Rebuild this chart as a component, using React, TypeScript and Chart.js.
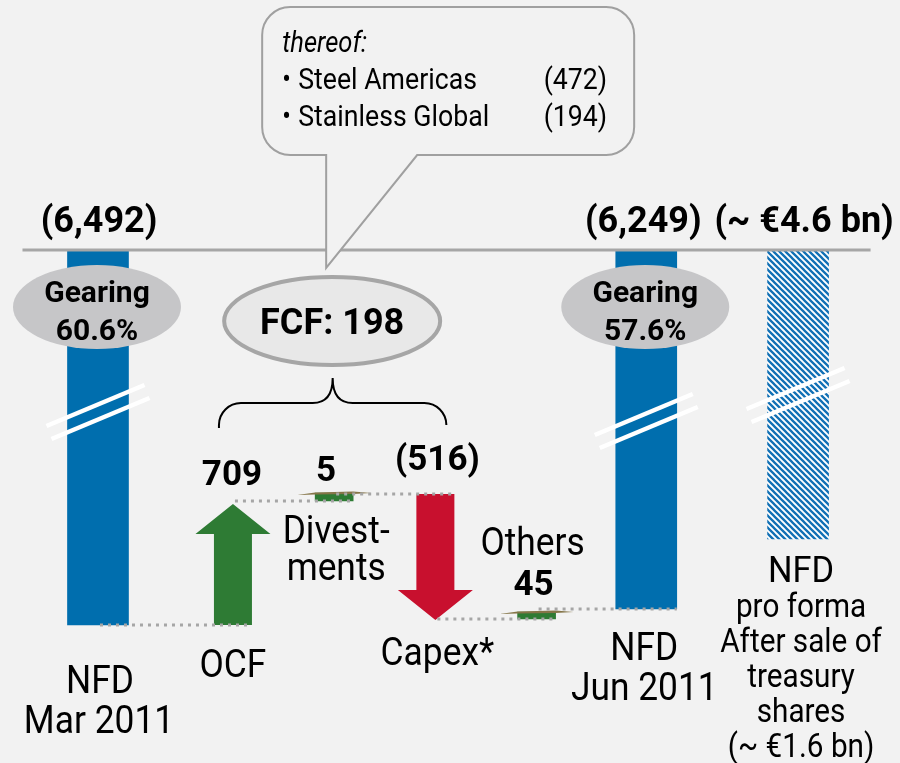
import { useEffect, useRef } from "react";
import { Chart, registerables } from "chart.js";

Chart.register(...registerables);

// ---- data (€ m) ----
const categories = ["NFD Mar 2011", "OCF", "Divestments", "Capex*", "Others", "NFD Jun 2011", "NFD pro forma"];
const amounts = [-6492, 709, 5, -516, 45, -6249, -4600];
const kinds = ["total", "flow", "flow", "flow", "flow", "total", "proforma"];
// schematic (not-to-scale, broken axis) extents used for drawing
const barFrom = [0, -375, -251, -244, -369, 0, 0];
const barTo = [-375, -254, -243, -370, -362, -359, -289];
const valueLabels = ["(6,492)", "709", "5", "(516)", "45", "(6,249)", "(~ €4.6 bn)"];
const categoryLines = [
  ["NFD", "Mar 2011"],
  ["OCF"],
  ["Divest-", "ments"],
  ["Capex*"],
  ["Others"],
  ["NFD", "Jun 2011"],
  ["NFD", "pro forma", "After sale of", "treasury", "shares", "(~ €1.6 bn)"],
];
const gearingLabels = ["60.6%", "", "", "", "", "57.6%", ""];
const fcfLabel = "FCF: 198";
const thereofNames = ["Steel Americas", "Stainless Global"];
const thereofValues = ["(472)", "(194)"];

// ---- layout (category slot spacing, in fine slots) ----
const slotGaps = [16, 12, 12, 12, 13, 18];
const slotIndex: number[] = [0];
slotGaps.forEach((g) => slotIndex.push(slotIndex[slotIndex.length - 1] + g));
const slotCount = slotIndex[slotIndex.length - 1] + 1;
const slotLabels = Array.from({ length: slotCount }, (_, i) => {
  const k = slotIndex.indexOf(i);
  return k >= 0 ? categories[k] : "";
});

const BLUE = "#006eae";
const GREEN = "#2e7b34";
const RED = "#c8102e";
const GRID = "#a6a6a6";
const FONT = "Roboto";

function txt(ctx: CanvasRenderingContext2D, s: string, x: number, y: number, size: number,
  o: { bold?: boolean; italic?: boolean; align?: CanvasTextAlign; sx?: number } = {}) {
  ctx.save();
  ctx.font = `${o.italic ? "italic " : ""}${o.bold ? "bold " : ""}${size}px ${FONT}`;
  ctx.textAlign = o.align || "center";
  ctx.textBaseline = "alphabetic";
  ctx.fillStyle = "#000";
  ctx.translate(x, y);
  ctx.scale(o.sx ?? (o.bold ? 1 : 0.93), 1);
  ctx.fillText(s, 0, 0);
  ctx.restore();
}

function ellipse(ctx: CanvasRenderingContext2D, cx: number, cy: number, rx: number, ry: number, fill: string, stroke?: string, lw = 0) {
  ctx.save();
  ctx.beginPath();
  ctx.ellipse(cx, cy, rx, ry, 0, 0, Math.PI * 2);
  ctx.fillStyle = fill;
  ctx.fill();
  if (stroke) { ctx.strokeStyle = stroke; ctx.lineWidth = lw; ctx.stroke(); }
  ctx.restore();
}

function arrow(ctx: CanvasRenderingContext2D, x: number, tail: number, tip: number, shaftW: number, headW: number, headL: number, color: string) {
  const dir = tip < tail ? -1 : 1;
  const neck = tip - dir * headL;
  ctx.save();
  ctx.beginPath();
  ctx.moveTo(x - shaftW / 2, tail);
  ctx.lineTo(x - shaftW / 2, neck);
  ctx.lineTo(x - headW / 2, neck);
  ctx.lineTo(x, tip);
  ctx.lineTo(x + headW / 2, neck);
  ctx.lineTo(x + shaftW / 2, neck);
  ctx.lineTo(x + shaftW / 2, tail);
  ctx.closePath();
  ctx.fillStyle = color;
  ctx.fill();
  ctx.restore();
}

const breakMarkLevels: Record<number, number> = { 0: -162, 5: -171, 6: -145 };

const decorPlugin = {
  id: "decor",
  afterDatasetsDraw(chart: any) {
    const ctx: CanvasRenderingContext2D = chart.ctx;
    const y = chart.scales.y;
    const els = categories.map((_, k) => {
      const ds = kinds[k] === "flow" ? 1 : 0;
      const e = chart.getDatasetMeta(ds).data[slotIndex[k]];
      const p = e.getProps(["x", "width"], true);
      const from = y.getPixelForValue(barFrom[k]);
      const to = y.getPixelForValue(barTo[k]);
      return { x: p.x, width: p.width, from, to, top: Math.min(from, to), bottom: Math.max(from, to) };
    });
    const axisY = y.getPixelForValue(0);

    // arrows for OCF and Capex, tapers for small flows
    categories.forEach((_, k) => {
      if (kinds[k] !== "flow") return;
      const e = els[k];
      if (k === 1 || k === 3) {
        arrow(ctx, e.x, e.from, e.to, e.width, 75, 30, amounts[k] > 0 ? GREEN : RED);
      } else {
        const l = e.x - e.width / 2, r = e.x + e.width / 2, t = e.top;
        ctx.save();
        ctx.beginPath();
        ctx.moveTo(l - 18, t + 2);
        ctx.lineTo(l, t - 0.5);
        ctx.lineTo(r, t - 1.5);
        ctx.lineTo(r + 18, t);
        ctx.lineTo(r, t + 1);
        ctx.lineTo(l, t + 1.5);
        ctx.closePath();
        ctx.fillStyle = "#857548";
        ctx.fill();
        ctx.restore();
      }
    });

    // dotted connectors
    ctx.save();
    ctx.strokeStyle = GRID;
    ctx.lineWidth = 3;
    ctx.setLineDash([3, 5]);
    for (let k = 0; k < 5; k++) {
      const a = els[k], b = els[k + 1];
      const lvl = kinds[k + 1] === "flow" ? barFrom[k + 1] : barTo[k + 1];
      const py = y.getPixelForValue(lvl);
      ctx.beginPath();
      ctx.moveTo(a.x + 2, py);
      ctx.lineTo(b.x + b.width / 2, py);
      ctx.stroke();
    }
    ctx.restore();

    // break marks
    Object.keys(breakMarkLevels).forEach((key) => {
      const k = Number(key);
      const e = els[k];
      const cy = y.getPixelForValue(breakMarkLevels[k]);
      const dx = 49, dy = -20.5;
      ctx.save();
      ctx.strokeStyle = "#ffffff";
      ctx.lineWidth = 4.5;
      [[-2.5, -6.5], [2.5, 6.5]].forEach(([ox, oy]) => {
        ctx.beginPath();
        ctx.moveTo(e.x + ox - dx, cy + oy - dy);
        ctx.lineTo(e.x + ox + dx, cy + oy + dy);
        ctx.stroke();
      });
      ctx.restore();
    });

    // axis line at zero
    ctx.save();
    ctx.strokeStyle = GRID;
    ctx.lineWidth = 3;
    ctx.beginPath();
    ctx.moveTo(els[0].x - els[0].width / 2 - 45, axisY);
    ctx.lineTo(els[6].x + els[6].width / 2 + 42, axisY);
    ctx.stroke();
    ctx.restore();

    // gearing ellipses
    categories.forEach((_, k) => {
      if (!gearingLabels[k]) return;
      const e = els[k];
      ellipse(ctx, e.x - 1, axisY + 57, 84, 42, "#c6c6c8");
      txt(ctx, "Gearing", e.x - 1, axisY + 52, 30, { bold: true });
      txt(ctx, gearingLabels[k], e.x - 1, axisY + 90, 30, { bold: true });
    });

    // value labels
    txt(ctx, valueLabels[0], els[0].x + 1, axisY - 18, 36, { bold: true });
    txt(ctx, valueLabels[5], els[5].x - 3, axisY - 18, 36, { bold: true });
    txt(ctx, valueLabels[6], els[6].x + 6, axisY - 18, 36, { bold: true });
    txt(ctx, valueLabels[1], els[1].x - 1, els[1].top - 19, 35, { bold: true });
    txt(ctx, valueLabels[2], els[2].x - 8, els[2].top - 12, 35, { bold: true });
    txt(ctx, valueLabels[3], els[3].x + 2, els[3].top - 24, 35, { bold: true });
    txt(ctx, valueLabels[4], els[4].x - 3, els[4].top - 17, 35, { bold: true });

    // category labels
    const L = categoryLines;
    txt(ctx, L[0][0], els[0].x + 2, els[0].bottom + 68, 38);
    txt(ctx, L[0][1], els[0].x + 1, els[0].bottom + 108, 38);
    txt(ctx, L[1][0], els[1].x, els[1].bottom + 52, 38);
    txt(ctx, L[2][0], els[2].x + 2, els[2].bottom + 42, 38);
    txt(ctx, L[2][1], els[2].x + 2, els[2].bottom + 79, 38);
    txt(ctx, L[3][0], els[3].x + 2, els[3].bottom + 45, 38);
    txt(ctx, L[4][0], els[4].x - 4, els[4].top - 57, 38);
    txt(ctx, L[5][0], els[5].x - 2, els[5].bottom + 51, 38);
    txt(ctx, L[5][1], els[5].x - 2, els[5].bottom + 91, 38);
    txt(ctx, L[6][0], els[6].x + 3, els[6].bottom + 43, 37);
    for (let i = 1; i < L[6].length; i++) {
      txt(ctx, L[6][i], els[6].x + 3, els[6].bottom + 43 + 35 * i, 33, { sx: 0.9 });
    }

    // FCF ellipse and brace
    const fx = (els[1].x + els[3].x) / 2 - 2;
    const fy = axisY + 71;
    ellipse(ctx, fx, fy, 108, 44, "#e8e8e8", GRID, 4);
    txt(ctx, fcfLabel, fx, fy + 13, 36, { bold: true });

    const bx1 = els[1].x - 14, bx2 = els[3].x + 11, bm = (bx1 + bx2) / 2;
    const bTop = axisY + 153, bEnd = axisY + 178, bPeak = axisY + 128;
    ctx.save();
    ctx.strokeStyle = "#000";
    ctx.lineWidth = 2;
    ctx.beginPath();
    ctx.moveTo(bx1, bEnd);
    ctx.arcTo(bx1, bTop, bx1 + 22, bTop, 22);
    ctx.lineTo(bm - 20, bTop);
    ctx.quadraticCurveTo(bm, bTop, bm, bPeak);
    ctx.quadraticCurveTo(bm, bTop, bm + 20, bTop);
    ctx.lineTo(bx2 - 22, bTop);
    ctx.arcTo(bx2, bTop, bx2, bEnd, 22);
    ctx.stroke();
    ctx.restore();

    // callout
    const tipX = fx - 6, tipY = fy - 53;
    const Lb = tipX - 64, Rb = tipX + 308, Tb = 7, Bb = 155, r = 28;
    const tailL = tipX, tailR = tipX + 91;
    ctx.save();
    ctx.beginPath();
    ctx.moveTo(Lb + r, Tb);
    ctx.lineTo(Rb - r, Tb);
    ctx.arcTo(Rb, Tb, Rb, Tb + r, r);
    ctx.lineTo(Rb, Bb - r);
    ctx.arcTo(Rb, Bb, Rb - r, Bb, r);
    ctx.lineTo(tailR, Bb);
    ctx.lineTo(tipX, tipY);
    ctx.lineTo(tailL, Bb);
    ctx.lineTo(Lb + r, Bb);
    ctx.arcTo(Lb, Bb, Lb, Bb - r, r);
    ctx.lineTo(Lb, Tb + r);
    ctx.arcTo(Lb, Tb, Lb + r, Tb, r);
    ctx.closePath();
    ctx.fillStyle = "#f2f2f2";
    ctx.fill();
    ctx.strokeStyle = "#a0a0a0";
    ctx.lineWidth = 2;
    ctx.stroke();
    ctx.restore();

    txt(ctx, "thereof:", Lb + 20, 52, 29, { italic: true, align: "left", sx: 0.88 });
    thereofNames.forEach((n, i) => {
      const by = 89 + 37 * i;
      txt(ctx, "•", Lb + 20, by, 29, { align: "left", sx: 0.88 });
      txt(ctx, n, Lb + 36, by, 30, { align: "left", sx: 0.89 });
      txt(ctx, thereofValues[i], Rb - 27, by, 30, { align: "right", sx: 0.89 });
    });
  },
};

export default function App() {
  const ref = useRef<HTMLCanvasElement | null>(null);
  useEffect(() => {
    const canvas = ref.current!;
    const tile = document.createElement("canvas");
    tile.width = 6;
    tile.height = 6;
    const p = tile.getContext("2d")!;
    p.fillStyle = "#ffffff";
    p.fillRect(0, 0, 6, 6);
    p.strokeStyle = "#1170b5";
    p.lineWidth = 2.3;
    p.beginPath();
    p.moveTo(-1, -1); p.lineTo(7, 7);
    p.moveTo(-1, 5); p.lineTo(1, 7);
    p.moveTo(5, -1); p.lineTo(7, 1);
    p.stroke();
    const pattern = canvas.getContext("2d")!.createPattern(tile, "repeat")!;

    const totalsData: any[] = Array(slotCount).fill(null);
    const flowsData: any[] = Array(slotCount).fill(null);
    const totalColors: any[] = Array(slotCount).fill("transparent");
    const flowColors: any[] = Array(slotCount).fill("transparent");
    categories.forEach((_, k) => {
      const s = slotIndex[k];
      if (kinds[k] === "flow") {
        flowsData[s] = [barFrom[k], barTo[k]];
        // arrows are drawn by the plugin on the (transparent) bar geometry
        flowColors[s] = k === 1 || k === 3 ? "transparent" : GREEN;
      } else {
        totalsData[s] = [barFrom[k], barTo[k]];
        totalColors[s] = kinds[k] === "proforma" ? pattern : BLUE;
      }
    });

    const chart = new Chart(canvas, {
      type: "bar",
      data: {
        labels: slotLabels,
        datasets: [
          { data: totalsData, backgroundColor: totalColors, barThickness: 61, borderWidth: 0, clip: false } as any,
          { data: flowsData, backgroundColor: flowColors, barThickness: 38, borderWidth: 0, clip: false } as any,
        ],
      },
      options: {
        animation: false,
        responsive: false,
        maintainAspectRatio: false,
        layout: { padding: { left: 93.77, right: 97.7, top: 250, bottom: 113 } },
        plugins: { legend: { display: false }, tooltip: { enabled: false } },
        scales: {
          x: { type: "category", display: false, offset: true, stacked: true, grid: { display: false } },
          y: { type: "linear", display: false, min: -400, max: 0, stacked: false },
        },
      },
      plugins: [decorPlugin],
    });
    return () => chart.destroy();
  }, []);

  return (
    <div style={{ position: "fixed", left: 0, top: 0, width: 900, height: 763, background: "#f2f2f2" }}>
      <canvas ref={ref} width={900} height={763} style={{ display: "block", width: 900, height: 763 }} />
    </div>
  );
}
